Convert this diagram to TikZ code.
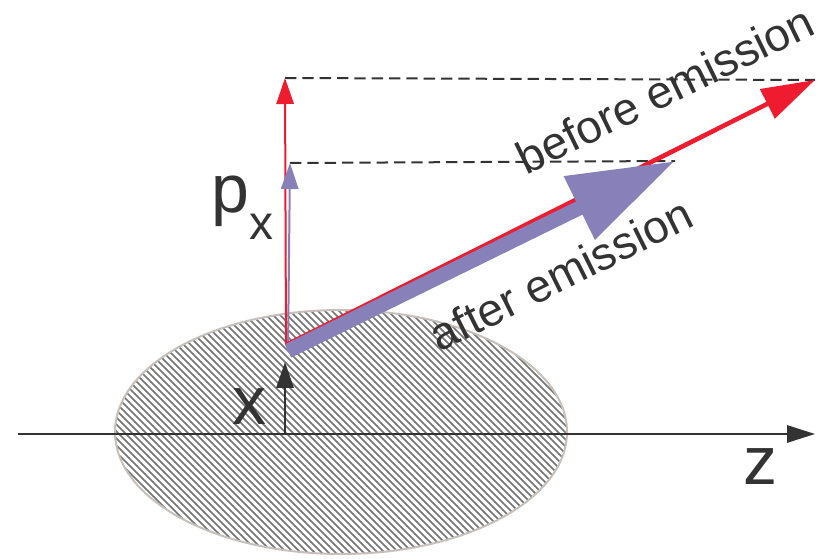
\documentclass[tikz,border=0pt]{standalone}
\usepackage{fontspec}
\setmainfont{Liberation Sans}
\usepackage{xcolor}
\definecolor{redP}{HTML}{EE1C2E}
\definecolor{blueP}{HTML}{8880B8}
\definecolor{inkP}{HTML}{333333}
\definecolor{rimP}{HTML}{C8BFBB}
\usetikzlibrary{arrows.meta}

\begin{document}
\begin{tikzpicture}[x=0.75pt,y=-0.75pt,
 lab/.style={text=inkP,inner sep=0pt,anchor=base,font=\fontsize{34.5}{40}\selectfont},
 sym/.style={text=inkP,inner sep=0pt,anchor=base,font=\fontsize{51}{60}\selectfont},
 hatch/.style={draw=black!55,line width=1.15pt},
 guide/.style={draw=inkP,line width=1.5pt,dash pattern=on 8.5pt off 4.5pt},
 axis/.style={draw=inkP,line width=1.5pt,-{Triangle[length=21pt,width=13pt]}},
 thin/.style={line width=1.5pt,-{Triangle[length=19.5pt,width=13pt]}}]
 \useasboundingbox (0,0) rectangle (826,559);
 \coordinate (C) at (341,432);
 \coordinate (O) at (285,434);
 \coordinate (zL) at (18,434);
 \coordinate (zR) at (815,434);
 \coordinate (xtip) at (285,362);
 \coordinate (r0) at (286,345);
 \coordinate (r1) at (815,80);
 \coordinate (rv) at (285,78);
 \coordinate (b0) at (288,351);
 \coordinate (b1) at (675,161);
 \coordinate (bv) at (290,163);
 % bunch
 \begin{scope}
 \clip (C) ellipse [x radius=169.5pt,y radius=91.5pt];
 \foreach \h in {-150,-143,...,570}
 \draw[hatch] (\h,305) -- ++(260,260);
 \end{scope}
 \draw[rimP,line width=1.5pt] (C) ellipse [x radius=169.5pt,y radius=91.5pt];
 \draw[axis] (zL) -- (zR);
 \draw[inkP,thin] (O) -- (xtip);
 \draw[guide] (rv) -- (r1);
 \draw[guide] (bv) -- (b1);
 \draw[redP,thin] (r0) -- (rv);
 \draw[blueP,thin] (b0) -- (bv);
 \draw[redP,line width=3.4pt,-{Triangle[length=40pt,width=24pt]}] (r0) -- (r1);
 \draw[blueP,line width=11pt,-{Triangle[length=80pt,width=50pt]}] (b0) -- (b1);
 \node[lab,rotate=26] (before) at (672,104) {before emission};
 \node[lab,rotate=26.5] (after) at (568,289) {after emission};
 \node[sym] (zlab) at (760,485) {z};
 \node[sym] (xlab) at (249,425) {x};
 \node[sym,anchor=base west] (pxlab) at (211,213) {p{\fontsize{36}{40}\selectfont\raisebox{-20pt}{x}}};
\end{tikzpicture}
\end{document}
